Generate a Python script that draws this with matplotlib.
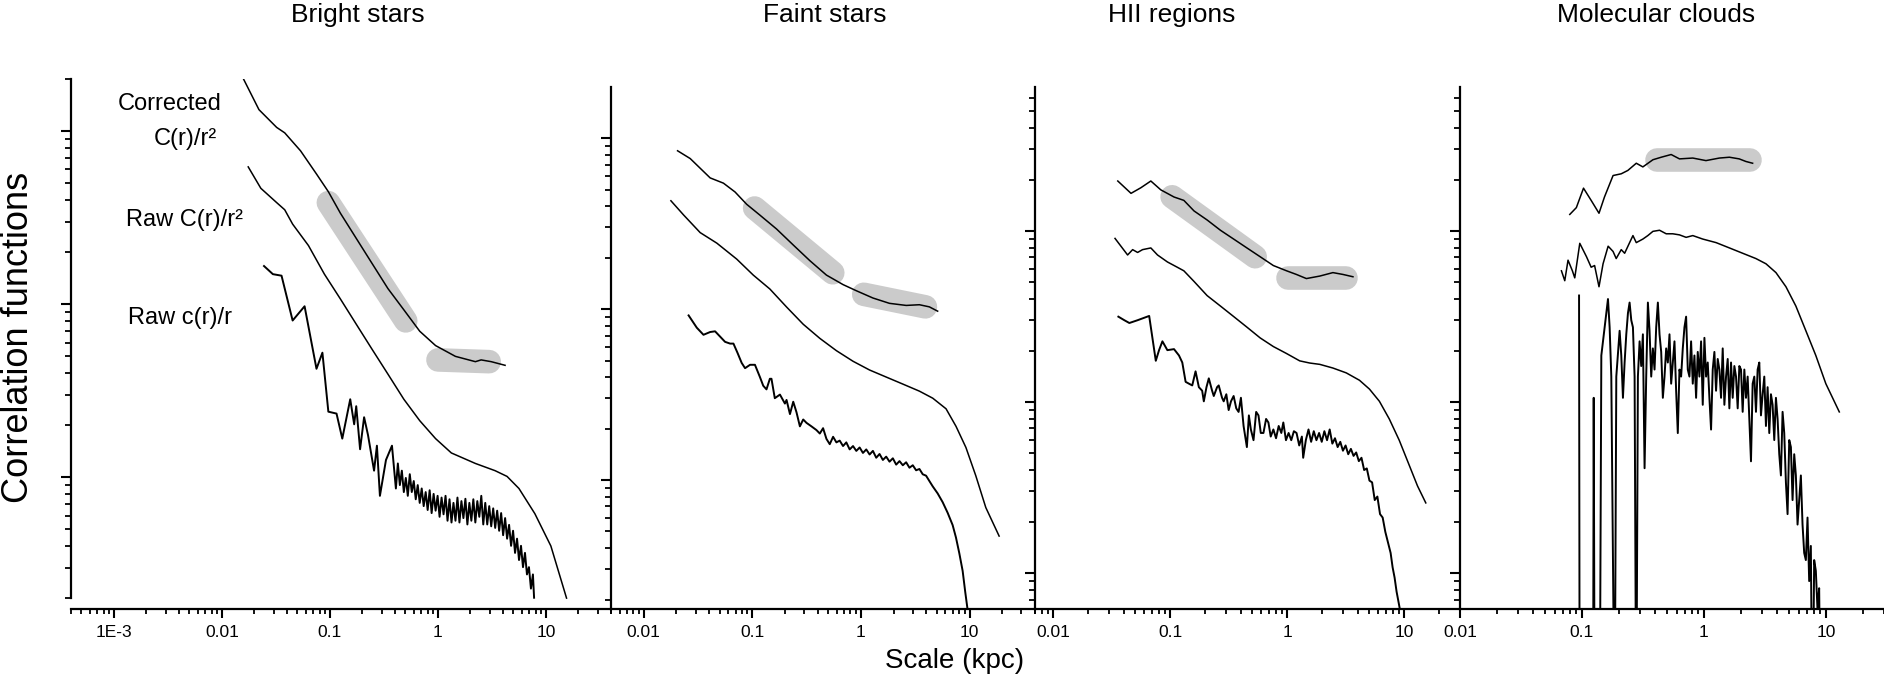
import numpy as np
import matplotlib
matplotlib.use("Agg")
import matplotlib.pyplot as plt
from matplotlib.ticker import FixedLocator, FixedFormatter, LogLocator, NullFormatter

plt.rcParams['font.family'] = ['Liberation Sans', 'DejaVu Sans']

W, H = 1884, 684
BASE = 609  # pixel row of the shared x axis

## Text
titles = ["Bright stars", "Faint stars", "HII regions", "Molecular clouds"]
title_x = [358, 825, 1172, 1656]
curve_names = ["Corrected", "C(r)/r\u00b2", "Raw C(r)/r\u00b2", "Raw c(r)/r"]
curve_name_xy = [(170, 104), (185, 139), (185, 220), (180, 318)]

## Axes ranges and tick labels
x_ticks = [[1e-3, 0.01, 0.1, 1, 10], [0.01, 0.1, 1, 10], [0.01, 0.1, 1, 10], [0.01, 0.1, 1, 10]]
x_ticklabels = [["1E-3", "0.01", "0.1", "1", "10"], ["0.01", "0.1", "1", "10"],
                ["0.01", "0.1", "1", "10"], ["0.01", "0.1", "1", "10"]]
x_lims = [(4e-4, 40), (0.005, 40), (0.007, 30), (0.01, 30)]
y_lims = [(0.00173, 2.0), (0.00176, 1.99), (0.00616, 6.95), (0.00616, 6.95)]

## Bright stars
p1_corr_x = [0.0157, 0.022, 0.0321, 0.0381, 0.0534, 0.075, 0.0967, 0.125, 0.175, 0.245, 0.344,
             0.483, 0.678, 0.95, 1.45, 2.22, 2.51, 3.11, 4.18]
p1_corr_y = [2.02, 1.33, 1.05, 0.977, 0.769, 0.565, 0.446, 0.335, 0.240, 0.172, 0.123,
             0.0927, 0.0697, 0.0576, 0.0499, 0.0465, 0.0476, 0.0465, 0.0443]
p1_raw2_x = [0.0175, 0.0229, 0.0321, 0.0381, 0.0451, 0.0632, 0.0888, 0.125, 0.175, 0.245, 0.344,
             0.483, 0.678, 0.95, 1.33, 2.22, 3.38, 4.36, 5.62, 7.89, 11.1, 15.5]
p1_raw2_y = [0.621, 0.467, 0.386, 0.351, 0.290, 0.218, 0.149, 0.107, 0.0766, 0.0549, 0.0394,
             0.0282, 0.0212, 0.0167, 0.0138, 0.0120, 0.0109, 0.0101, 0.0086, 0.00615, 0.0040, 0.0020]
p1_raw1_x = [0.0245, 0.0296, 0.0356, 0.0451, 0.0582, 0.0750, 0.0851, 0.0966, 0.115, 0.130, 0.154,
             0.1675, 0.175, 0.190, 0.207, 0.225, 0.256, 0.272, 0.290, 0.330, 0.375,
             0.4076, 0.4252, 0.4436, 0.4628, 0.4828, 0.5037, 0.5255, 0.5482, 0.5719, 0.5967,
             0.6225, 0.6494, 0.6775, 0.7068, 0.7374, 0.7693, 0.8026, 0.8373, 0.8735, 0.9113,
             0.9507, 0.9918, 1.0347, 1.0795, 1.1262, 1.1749, 1.2257, 1.2787, 1.3340, 1.3917,
             1.4519, 1.5147, 1.5802, 1.6486, 1.7199, 1.7943, 1.8719, 1.9529, 2.0373, 2.1254,
             2.2174, 2.3133, 2.4133, 2.5177, 2.6266, 2.7402, 2.8587, 2.9824, 3.1114, 3.2459,
             3.3863, 3.5328, 3.6856, 3.8450, 4.0113, 4.1848, 4.3658, 4.5546, 4.7516, 4.9571,
             5.1715, 5.3952, 5.6285, 5.8720, 6.1260, 6.3909, 6.6673, 6.9557, 7.2566, 7.5704, 7.76]
p1_raw1_y = [0.166, 0.149, 0.146, 0.0804, 0.0972, 0.0423, 0.0524, 0.0239, 0.0233, 0.0167, 0.0282,
             0.0202, 0.0257, 0.0145, 0.0222, 0.0175, 0.0109, 0.0152, 0.0078, 0.01257, 0.0152,
             0.0086, 0.0120, 0.0090, 0.0109, 0.0082, 0.0099, 0.0078, 0.0104, 0.0082, 0.0095,
             0.00745, 0.0090, 0.0071, 0.0086, 0.0068, 0.0082, 0.00646, 0.0084, 0.0062, 0.0080,
             0.0064, 0.0078, 0.0059, 0.00762, 0.0061, 0.0078, 0.0056, 0.00745, 0.00547, 0.0071,
             0.0056, 0.00762, 0.00547, 0.00727, 0.0058, 0.0075, 0.00533, 0.0071, 0.0056, 0.00745,
             0.00547, 0.00727, 0.0059, 0.0078, 0.00533, 0.0071, 0.00533, 0.0068, 0.0052, 0.0066,
             0.00509, 0.0064, 0.0049, 0.0062, 0.00462, 0.0058, 0.00441, 0.0053, 0.00401, 0.0049,
             0.00365, 0.00441, 0.00332, 0.00401, 0.00302, 0.00365, 0.00274, 0.00302, 0.00227, 0.00274,
             0.00201]
p1_bands = [((0.0966, 0.503), (0.386, 0.080)), ((1.0, 2.98), (0.0476, 0.0465))]

## Faint stars
p2_corr_x = [0.0205, 0.0268, 0.0409, 0.0542, 0.0693, 0.0887, 0.117, 0.167, 0.238, 0.338, 0.481,
             0.684, 0.906, 1.29, 1.83, 2.61, 3.45, 4.26, 5.08]
p2_corr_y = [0.843, 0.759, 0.585, 0.545, 0.484, 0.410, 0.355, 0.294, 0.237, 0.192, 0.158,
             0.139, 0.128, 0.116, 0.108, 0.105, 0.106, 0.103, 0.0972]
p2_raw2_x = [0.0178, 0.0233, 0.0331, 0.0471, 0.0718, 0.102, 0.145, 0.206, 0.294, 0.418, 0.594,
             0.845, 1.20, 1.71, 2.43, 3.45, 4.58, 6.07, 7.50, 9.25, 11.4, 14.1, 18.7]
p2_raw2_y = [0.430, 0.355, 0.280, 0.243, 0.196, 0.158, 0.131, 0.103, 0.0815, 0.0674, 0.0571,
             0.0495, 0.0440, 0.0400, 0.0364, 0.0331, 0.0301, 0.0261, 0.0206, 0.0155, 0.0106, 0.0069, 0.0047]
p2_raw1_x = [0.0259, 0.0308, 0.0355, 0.0409, 0.0454, 0.0505, 0.0561, 0.0624, 0.0670, 0.0728, 0.0798,
             0.0857, 0.0953, 0.1057, 0.1175, 0.126, 0.135, 0.145, 0.150, 0.161, 0.1795, 0.1995, 0.2065,
             0.222, 0.238, 0.255, 0.274, 0.294, 0.315, 0.350, 0.389, 0.418, 0.448, 0.481, 0.516, 0.554,
             0.594, 0.637, 0.684, 0.733, 0.787, 0.845, 0.906, 0.972, 1.043, 1.119, 1.201, 1.288, 1.382,
             1.483, 1.591, 1.707, 1.832, 1.966, 2.109, 2.263, 2.428, 2.605, 2.795, 2.999, 3.218, 3.453,
             3.705, 3.975, 4.265, 4.576, 5.08, 5.65, 6.28, 6.98, 7.49, 8.04, 8.63, 9.12, 9.59]
p2_raw1_y = [0.0918, 0.0778, 0.0707, 0.0734, 0.0741, 0.0690, 0.0643, 0.0628, 0.0628, 0.0557, 0.0484,
             0.0451, 0.0472, 0.0472, 0.0400, 0.0356, 0.0339, 0.0391, 0.0391, 0.0301, 0.0316, 0.0280, 0.0294,
             0.0243, 0.0287, 0.0249, 0.0206, 0.0226, 0.0216, 0.0206, 0.0196, 0.0187, 0.0201, 0.0174, 0.0162,
             0.0179, 0.0166, 0.0170, 0.0158, 0.0166, 0.0151, 0.0158, 0.0148, 0.0155, 0.0144, 0.0151, 0.0141,
             0.0148, 0.0135, 0.0142, 0.0131, 0.0137, 0.0128, 0.0134, 0.0123, 0.0129, 0.0122, 0.0127, 0.0118,
             0.0122, 0.0114, 0.0116, 0.0108, 0.0106, 0.00986, 0.00918, 0.00835, 0.00742, 0.00643, 0.00545,
             0.00461, 0.00373, 0.00294, 0.00221, 0.00174]
p2_bands = [((0.105, 0.55), (0.39, 0.163)), ((1.06, 3.92), (0.122, 0.103))]

## HII regions
p3_corr_x = [0.0357, 0.0463, 0.0562, 0.0684, 0.0832, 0.108, 0.131, 0.160, 0.207, 0.269, 0.349,
             0.453, 0.588, 0.762, 0.989, 1.20, 1.46, 1.90, 2.46, 3.00, 3.65]
p3_corr_y = [1.96, 1.66, 1.79, 1.96, 1.74, 1.58, 1.51, 1.31, 1.16, 1.01, 0.897,
             0.796, 0.707, 0.628, 0.585, 0.557, 0.527, 0.545, 0.571, 0.557, 0.540]
p3_raw2_x = [0.0338, 0.0433, 0.0478, 0.0527, 0.0581, 0.0684, 0.078, 0.0948, 0.115, 0.131, 0.160,
             0.207, 0.269, 0.349, 0.453, 0.588, 0.762, 0.989, 1.28, 1.56, 1.90, 2.46, 3.20, 4.15,
             5.05, 6.14, 7.46, 9.07, 11.0, 13.0, 15.3]
p3_raw2_y = [0.905, 0.724, 0.778, 0.749, 0.778, 0.796, 0.724, 0.659, 0.614, 0.585, 0.507,
             0.419, 0.364, 0.316, 0.274, 0.237, 0.211, 0.192, 0.174, 0.169, 0.166, 0.158, 0.148, 0.134,
             0.119, 0.101, 0.0796, 0.0598, 0.0430, 0.0323, 0.0257]
p3_raw1_x = [0.0361, 0.0406, 0.0448, 0.0527, 0.0662, 0.0754, 0.0804, 0.0859, 0.0947, 0.1079, 0.119,
             0.127, 0.1356, 0.1447, 0.1545, 0.1649, 0.1760, 0.1878, 0.1940, 0.2044, 0.2140, 0.2284,
             0.2360, 0.2518, 0.2601, 0.2777, 0.2869, 0.3021, 0.3163, 0.3311, 0.3488, 0.3674, 0.3846,
             0.4026, 0.4242, 0.4527, 0.4708, 0.4896, 0.5158, 0.5434, 0.5688, 0.5953, 0.6271, 0.6607,
             0.6915, 0.7238, 0.7625, 0.8034, 0.8465, 0.8918, 0.9273, 0.9768, 1.029, 1.084, 1.142,
             1.203, 1.268, 1.336, 1.371, 1.444, 1.522, 1.603, 1.689, 1.779, 1.875, 1.975, 2.080,
             2.192, 2.309, 2.433, 2.563, 2.701, 2.845, 2.997, 3.158, 3.327, 3.505, 3.693, 3.890,
             4.099, 4.317, 4.549, 4.792, 5.049, 5.319, 5.604, 5.902, 6.219, 6.550, 6.901, 7.271,
             7.660, 7.965, 8.283, 8.613, 8.957, 9.194]
p3_raw1_y = [0.3155, 0.3008, 0.2897, 0.3008, 0.3186, 0.1742, 0.2010, 0.2264, 0.2010, 0.2038, 0.1871,
             0.1702, 0.1312, 0.1280, 0.1250, 0.1511, 0.1221, 0.1164, 0.1009, 0.1221, 0.1375, 0.1164,
             0.1084, 0.1221, 0.1250, 0.1059, 0.1009, 0.1110, 0.0897, 0.1009, 0.1084, 0.0918, 0.0875,
             0.1059, 0.0724, 0.0545, 0.0835, 0.0691, 0.0598, 0.0875, 0.0835, 0.0659, 0.0659, 0.0796,
             0.0759, 0.0628, 0.0691, 0.0614, 0.0724, 0.0659, 0.0759, 0.0598, 0.0659, 0.0598, 0.0675,
             0.0659, 0.0557, 0.0628, 0.0472, 0.0598, 0.0691, 0.0585, 0.0675, 0.0598, 0.0659, 0.0585,
             0.0675, 0.0598, 0.0691, 0.0571, 0.0614, 0.0545, 0.0585, 0.0519, 0.0557, 0.0495, 0.0532,
             0.0484, 0.0507, 0.0451, 0.0472, 0.0400, 0.0409, 0.0347, 0.0339, 0.0267, 0.0280, 0.0221,
             0.0211, 0.0174, 0.0151, 0.0131, 0.0108, 0.0094, 0.00778, 0.00675, 0.00613]
p3_bands = [((0.104, 0.533), (1.585, 0.707)), ((1.02, 3.16), (0.532, 0.532))]

## Molecular clouds (0.001 = drops below the axis)
p4_corr_x = [0.0795, 0.090, 0.103, 0.119, 0.138, 0.153, 0.180, 0.210, 0.238, 0.279, 0.316,
             0.382, 0.447, 0.539, 0.631, 0.811, 1.04, 1.34, 1.62, 1.95, 2.21, 2.51]
p4_corr_y = [1.25, 1.37, 1.78, 1.51, 1.27, 1.58, 2.11, 2.16, 2.26, 2.49, 2.37,
             2.61, 2.70, 2.80, 2.64, 2.67, 2.58, 2.67, 2.70, 2.64, 2.55, 2.49]
p4_raw2_x = [0.0679, 0.0723, 0.0769, 0.0835, 0.0873, 0.096, 0.109, 0.119, 0.127, 0.138, 0.149,
             0.164, 0.180, 0.191, 0.210, 0.224, 0.246, 0.262, 0.279, 0.316, 0.347, 0.382, 0.433,
             0.491, 0.556, 0.631, 0.715, 0.811, 0.979, 1.26, 1.62, 2.08, 2.67, 3.23, 3.90, 4.71,
             5.68, 6.86, 8.28, 10.0, 12.9]
p4_raw2_y = [0.585, 0.512, 0.675, 0.585, 0.532, 0.847, 0.707, 0.614, 0.628, 0.472, 0.643,
             0.815, 0.759, 0.690, 0.778, 0.741, 0.855, 0.940, 0.855, 0.897, 0.940, 0.995, 1.01,
             0.963, 0.963, 0.949, 0.918, 0.940, 0.897, 0.855, 0.796, 0.741, 0.690, 0.643, 0.571, 0.472,
             0.364, 0.261, 0.187, 0.128, 0.0875]
p4_raw1_x = [0.0947, 0.0958, 0.1233, 0.1249, 0.1272, 0.1398, 0.1442, 0.1536, 0.1635, 0.1687, 0.1741,
             0.1854, 0.1913, 0.2037, 0.2102, 0.2169, 0.2238, 0.2310, 0.2384, 0.2459, 0.2538, 0.2619,
             0.2703, 0.2788, 0.2877, 0.2970, 0.3063, 0.3161, 0.3263, 0.3366, 0.3474, 0.3584, 0.3699,
             0.3817, 0.3939, 0.4064, 0.4194, 0.4327, 0.4466, 0.4608, 0.4755, 0.4906, 0.5063, 0.5224,
             0.5391, 0.5562, 0.5740, 0.5922, 0.6111, 0.6306, 0.6507, 0.6714, 0.6929, 0.7150, 0.7378,
             0.7613, 0.7856, 0.8107, 0.8366, 0.8633, 0.8908, 0.9193, 0.9486, 0.9789, 1.0101, 1.0423,
             1.0756, 1.1099, 1.1453, 1.1819, 1.2196, 1.2585, 1.2987, 1.3401, 1.3829, 1.4270, 1.4726,
             1.5196, 1.5681, 1.6181, 1.6697, 1.7230, 1.7780, 1.8347, 1.8932, 1.9536, 2.0159, 2.0802,
             2.1466, 2.2151, 2.2857, 2.3586, 2.4338, 2.5114, 2.5916, 2.6743, 2.7596, 2.8476, 2.9385,
             3.0322, 3.1290, 3.2288, 3.3318, 3.4381, 3.5478, 3.6610, 3.7778, 3.8983, 4.0226, 4.1509,
             4.2833, 4.4199, 4.5609, 4.7063, 4.8564, 5.0113, 5.1712, 5.3360, 5.5062, 5.6818, 5.8630,
             6.0500, 6.2430, 6.4421, 6.6476, 6.8596, 7.0784, 7.3041, 7.5371, 7.7774, 8.0255, 8.2815,
             8.5457, 8.8181, 9.0994]
p4_raw1_y = [0.4195, 0.001, 0.001, 0.1058, 0.001, 0.001, 0.1871, 0.2736, 0.4000, 0.2736, 0.1408,
             0.001, 0.1408, 0.2609, 0.1871, 0.1058, 0.1702, 0.2488, 0.3309, 0.3815, 0.3009, 0.2736,
             0.1408, 0.001, 0.1408, 0.2263, 0.1623, 0.2488, 0.0410, 0.1408, 0.3815, 0.2609, 0.1408,
             0.2058, 0.1548, 0.2736, 0.3815, 0.2488, 0.1963, 0.1058, 0.1408, 0.2058, 0.1702, 0.2488,
             0.1280, 0.1702, 0.2263, 0.1164, 0.0658, 0.1548, 0.1408, 0.2058, 0.2736, 0.3155, 0.1548,
             0.1408, 0.2263, 0.1280, 0.1871, 0.1058, 0.1963, 0.1408, 0.2263, 0.0963, 0.2373, 0.1408,
             0.1702, 0.1058, 0.0690, 0.1548, 0.1963, 0.1164, 0.1785, 0.1548, 0.1058, 0.2058, 0.0963,
             0.1408, 0.1785, 0.0918, 0.1702, 0.1058, 0.1623, 0.1408, 0.0918, 0.1623, 0.1548, 0.0876,
             0.1548, 0.1058, 0.1408, 0.0796, 0.0450, 0.1280, 0.1408, 0.0876, 0.1548, 0.1702, 0.0835,
             0.1110, 0.1408, 0.0724, 0.1221, 0.0658, 0.1110, 0.0963, 0.0599, 0.1058, 0.0796, 0.0495,
             0.0372, 0.0876, 0.0658, 0.0339, 0.0221, 0.0599, 0.0545, 0.0267, 0.0495, 0.0372, 0.0192,
             0.0267, 0.0372, 0.0192, 0.0131, 0.0119, 0.0211, 0.00897, 0.0144, 0.001, 0.0119, 0.0103,
             0.00613, 0.00815, 0.001]
p4_bands = [((0.412, 2.38), (2.61, 2.61))]

panel_curves = [
    [(p1_corr_x, p1_corr_y), (p1_raw2_x, p1_raw2_y), (p1_raw1_x, p1_raw1_y)],
    [(p2_corr_x, p2_corr_y), (p2_raw2_x, p2_raw2_y), (p2_raw1_x, p2_raw1_y)],
    [(p3_corr_x, p3_corr_y), (p3_raw2_x, p3_raw2_y), (p3_raw1_x, p3_raw1_y)],
    [(p4_corr_x, p4_corr_y), (p4_raw2_x, p4_raw2_y), (p4_raw1_x, p4_raw1_y)],
]
panel_bands = [p1_bands, p2_bands, p3_bands, p4_bands]

## Layout in pixels
lefts = [71, 611, 1035, 1460]
rights = [611, 1035, 1460, 1884]
tops = [79, 87, 87, 87]

fig = plt.figure(figsize=(W / 100, H / 100), dpi=100)

for i in range(4):
    ax = fig.add_axes([lefts[i] / W, (H - BASE) / H,
                       (rights[i] - lefts[i]) / W, (BASE - tops[i]) / H])
    ax.patch.set_alpha(0)

    for (bx, by) in panel_bands[i]:
        ax.plot(bx, by, color='#cbcbcb', lw=17, solid_capstyle='round', zorder=1)
    for k, (cx, cy) in enumerate(panel_curves[i]):
        # the raw c(r)/r curve is noisy and drawn a bit heavier
        ax.plot(cx, cy, color='black', lw=1.4 if k == 2 else 1.1, zorder=2)

    ax.set_xscale('log')
    ax.set_yscale('log')
    ax.set_xlim(*x_lims[i])
    ax.set_ylim(*y_lims[i])

    ax.xaxis.set_major_locator(FixedLocator(x_ticks[i]))
    ax.xaxis.set_major_formatter(FixedFormatter(x_ticklabels[i]))
    ax.xaxis.set_minor_locator(LogLocator(base=10, subs=np.arange(2, 10), numticks=20))
    ax.xaxis.set_minor_formatter(NullFormatter())
    ax.yaxis.set_major_locator(LogLocator(base=10, numticks=20))
    ax.yaxis.set_minor_locator(LogLocator(base=10, subs=np.arange(2, 10), numticks=20))
    ax.yaxis.set_major_formatter(NullFormatter())
    ax.yaxis.set_minor_formatter(NullFormatter())

    for s in ['top', 'right']:
        ax.spines[s].set_visible(False)
    for s in ['left', 'bottom']:
        ax.spines[s].set_linewidth(1.6)
    if i == 0:
        ax.spines['left'].set_bounds(0.002, 2.0)

    ax.tick_params(axis='x', which='major', direction='out', length=6.5, width=1.5,
                   labelsize=12.5, pad=5)
    ax.tick_params(axis='x', which='minor', direction='out', length=3.5, width=1.3)
    ax.tick_params(axis='y', which='major', direction='out', length=7, width=1.5)
    ax.tick_params(axis='y', which='minor', direction='out', length=4, width=1.3)

    fig.text(title_x[i] / W, 1 - 15 / H, titles[i], ha='center', va='center', fontsize=19)

for name, (tx, ty) in zip(curve_names, curve_name_xy):
    fig.text(tx / W, 1 - ty / H, name, ha='center', va='center', fontsize=17)

fig.text(19 / W, 1 - 337 / H, "Correlation functions", rotation=90,
         ha='center', va='center', fontsize=26)
fig.text(955 / W, 1 - 661 / H, "Scale (kpc)", ha='center', va='center', fontsize=20)

fig.savefig("out.png", dpi=100)
plt.close(fig)
